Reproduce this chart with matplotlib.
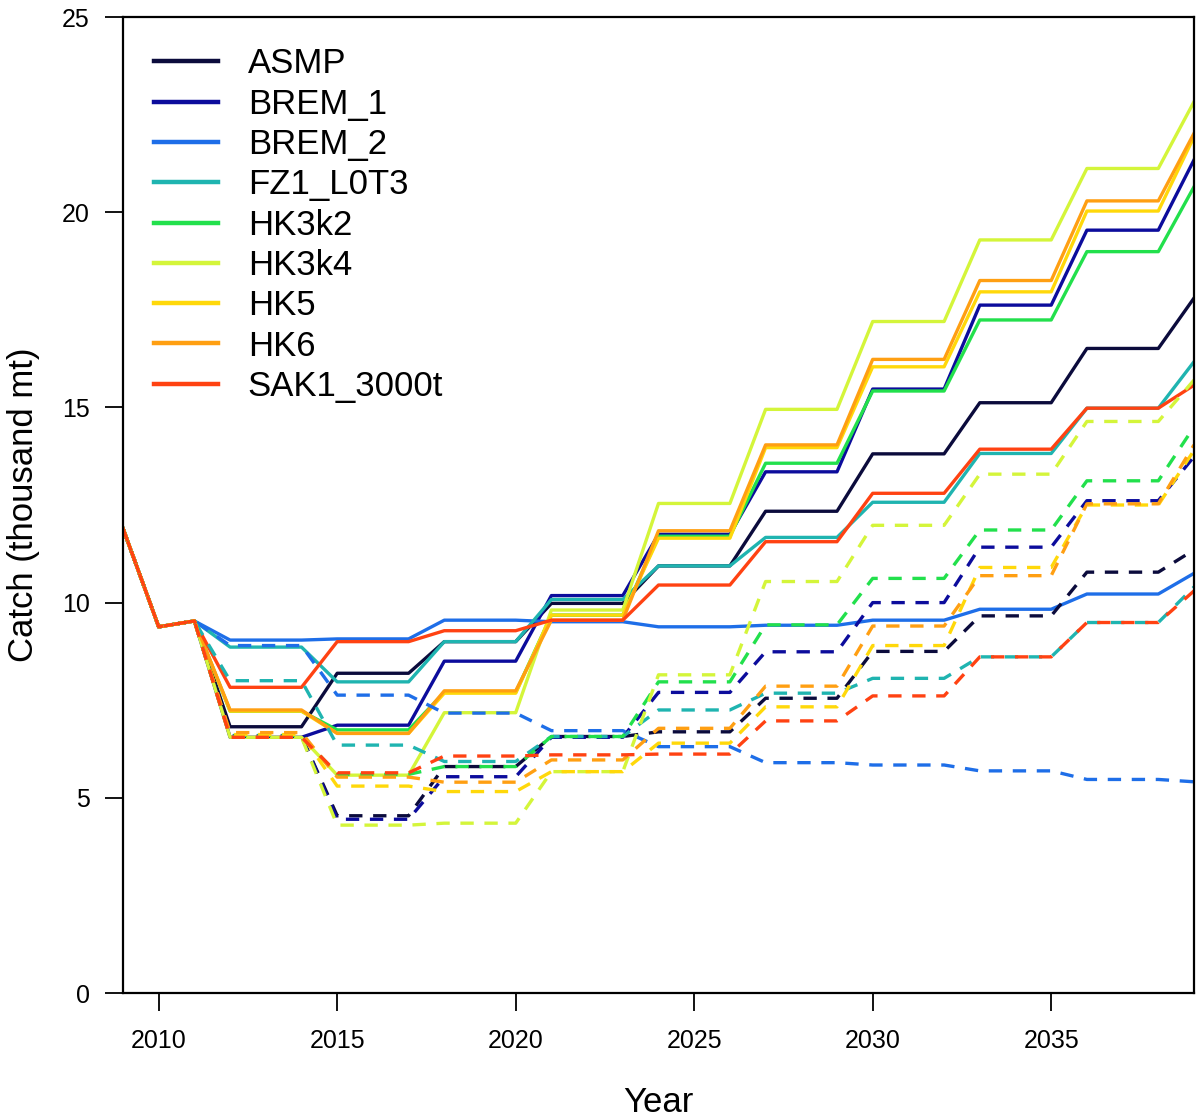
import matplotlib.pyplot as plt
import numpy as np

plt.rcParams['font.family'] = ['Liberation Sans', 'DejaVu Sans']

# historical catch (thousand mt), shared by all MPs
hist_years = [2009, 2010, 2011]
hist_catch = [11.9, 9.38, 9.53]

# TAC periods: each value holds for 3 years (2012-14, 2015-17, ... , 2039)
period_start = [2012, 2015, 2018, 2021, 2024, 2027, 2030, 2033, 2036, 2039]

mps = ['ASMP', 'BREM_1', 'BREM_2', 'FZ1_L0T3', 'HK3k2', 'HK3k4', 'HK5', 'HK6', 'SAK1_3000t']
colors = ['#0b0b3c', '#0c0c9c', '#1e6ee8', '#1fb4b0', '#22e04c', '#d4f53a', '#ffd80a', '#ff9f12', '#ff4212']

# median catch per period
median = {
    'ASMP':       [6.82, 8.19, 9.00, 9.98, 10.94, 12.34, 13.81, 15.12, 16.51, 17.80],
    'BREM_1':     [6.55, 6.86, 8.50, 10.18, 11.75, 13.35, 15.47, 17.62, 19.54, 21.34],
    'BREM_2':     [9.04, 9.07, 9.55, 9.51, 9.38, 9.42, 9.55, 9.83, 10.22, 10.75],
    'FZ1_L0T3':   [8.86, 7.97, 9.00, 10.08, 10.94, 11.67, 12.57, 13.82, 14.98, 16.17],
    'HK3k2':      [7.22, 6.74, 7.70, 9.68, 11.70, 13.57, 15.42, 17.24, 18.99, 20.65],
    'HK3k4':      [6.55, 5.58, 7.18, 9.81, 12.54, 14.95, 17.20, 19.29, 21.12, 22.83],
    'HK5':        [7.22, 6.65, 7.68, 9.68, 11.65, 13.97, 16.04, 17.96, 20.03, 21.93],
    'HK6':        [7.25, 6.65, 7.74, 9.55, 11.84, 14.04, 16.23, 18.25, 20.29, 22.02],
    'SAK1_3000t': [7.83, 9.00, 9.28, 9.55, 10.45, 11.56, 12.80, 13.93, 14.98, 15.57],
}

# lower quantile per period
lower = {
    'ASMP':       [6.58, 4.54, 5.80, 6.57, 6.69, 7.55, 8.75, 9.66, 10.78, 11.35],
    'BREM_1':     [6.58, 4.45, 5.54, 6.55, 7.70, 8.74, 10.00, 11.42, 12.61, 13.74],
    'BREM_2':     [8.90, 7.63, 7.17, 6.72, 6.31, 5.90, 5.84, 5.69, 5.47, 5.41],
    'FZ1_L0T3':   [8.00, 6.35, 5.93, 6.57, 7.25, 7.68, 8.06, 8.61, 9.49, 10.40],
    'HK3k2':      [6.60, 5.60, 5.80, 6.57, 7.97, 9.43, 10.62, 11.86, 13.12, 14.50],
    'HK3k4':      [6.55, 4.30, 4.35, 5.67, 8.15, 10.54, 11.98, 13.29, 14.64, 15.70],
    'HK5':        [6.62, 5.30, 5.16, 5.67, 6.40, 7.33, 8.90, 10.90, 12.50, 13.90],
    'HK6':        [6.67, 5.53, 5.40, 5.97, 6.78, 7.86, 9.40, 10.69, 12.53, 14.04],
    'SAK1_3000t': [6.55, 5.64, 6.07, 6.10, 6.12, 6.97, 7.61, 8.61, 9.49, 10.30],
}

proj_years = np.arange(2012, 2040)
years = np.concatenate([hist_years, proj_years])


def expand(vals):
    # spread period TACs over the years they apply to
    idx = (proj_years - period_start[0]) // 3
    return np.concatenate([hist_catch, np.asarray(vals)[idx]])


fig = plt.figure(figsize=(12, 11.19), dpi=100)
ax = fig.add_axes([0.1025, 0.1126, 0.8925, 0.8722])

for mp, c in zip(mps, colors):
    ax.plot(years, expand(median[mp]), color=c, lw=2.4, label=mp)
for mp, c in zip(mps, colors):
    ax.plot(years, expand(lower[mp]), color=c, lw=2.4, dashes=(4, 3.2))

ax.set_xlim(2009, 2039)
ax.set_ylim(0, 25)
ax.set_xticks([2010, 2015, 2020, 2025, 2030, 2035])
ax.set_yticks([0, 5, 10, 15, 20, 25])
ax.tick_params(axis='both', direction='out', length=13, width=1.3, labelsize=18)
ax.tick_params(axis='x', pad=13)
ax.tick_params(axis='y', pad=11)
for lab in ax.get_xticklabels() + ax.get_yticklabels():
    lab.set_family(['Liberation Sans Narrow', 'Liberation Sans'])
for s in ax.spines.values():
    s.set_linewidth(1.6)

ax.set_xlabel('Year', fontsize=25, labelpad=24)
ax.set_ylabel('Catch (thousand mt)', fontsize=25, labelpad=16)

leg = ax.legend(loc='upper left', bbox_to_anchor=(0.016, 0.983), frameon=False,
                fontsize=25, handlelength=1.85, handletextpad=0.85,
                labelspacing=0.21, borderaxespad=0)
for ln in leg.get_lines():
    ln.set_linewidth(3.2)

fig.savefig('out.png', dpi=100)
